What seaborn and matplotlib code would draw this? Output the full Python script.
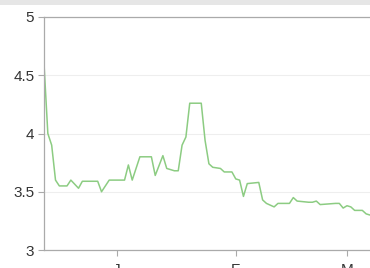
import matplotlib
matplotlib.use("Agg")
import matplotlib.pyplot as plt
import matplotlib.dates as mdates
import seaborn as sns
import pandas as pd
import numpy as np

# Day offsets from 1 Jan 2016 and the value read at each
day_offsets = [-19, -18, -17, -16, -15, -13, -12, -10, -9, -5, -4, -2, 2, 3, 4, 6, 9, 10,
               12, 13, 15, 16, 17, 18, 19, 22, 23, 24, 25, 27, 28, 30, 31, 32, 33, 34, 37,
               38, 39, 41, 42, 45, 46, 47, 50, 51, 52, 53, 57, 58, 59, 60, 61, 62, 64, 65, 66]
values = [4.6, 4.0, 3.9, 3.6, 3.55, 3.55, 3.6, 3.53, 3.59, 3.59, 3.5, 3.6, 3.6, 3.73, 3.6,
          3.8, 3.8, 3.64, 3.81, 3.7, 3.68, 3.68, 3.9, 3.97, 4.26, 4.26, 3.94, 3.74, 3.71,
          3.70, 3.67, 3.67, 3.61, 3.6, 3.46, 3.57, 3.58, 3.43, 3.40, 3.37, 3.40, 3.40, 3.45,
          3.42, 3.41, 3.41, 3.42, 3.39, 3.40, 3.40, 3.36, 3.38, 3.37, 3.34, 3.34, 3.31, 3.30]
y_ticks = [3, 3.5, 4, 4.5, 5]
y_tick_labels = ["3", "3.5", "4", "4.5", "5"]
month_labels = ["J", "F", "M"]

base = pd.Timestamp("2016-01-01")
df = pd.DataFrame({
    "date": [base + pd.Timedelta(days=d) for d in day_offsets],
    "value": values,
})

sns.set_theme(style="white")
plt.rcParams["font.family"] = ["Liberation Sans", "DejaVu Sans"]

fig = plt.figure(figsize=(3.70, 2.68), dpi=100)
fig.patch.set_facecolor("white")
# light grey strip at the top
fig.add_artist(plt.Rectangle((0, 1 - 4.5 / 268), 1, 4.5 / 268, transform=fig.transFigure,
                             facecolor="#e6e6e6", edgecolor="none"))

ax = fig.add_axes([44 / 370, 1 - 250 / 268, 1 - 44 / 370, (250 - 17) / 268])
sns.lineplot(data=df, x="date", y="value", ax=ax, color="#8ccc82", linewidth=1.1)

ax.set_xlim(base + pd.Timedelta(days=-19), base + pd.Timedelta(days=66))
ax.set_ylim(3, 5)
ax.set_yticks(y_ticks)
ax.set_yticklabels(y_tick_labels)
ax.set_xticks([pd.Timestamp("2016-01-01"), pd.Timestamp("2016-02-01"), pd.Timestamp("2016-03-01")])
ax.set_xticklabels(month_labels)
ax.set_xlabel("")
ax.set_ylabel("")

ax.grid(axis="y", color="#eeeeee", linewidth=0.8)
ax.set_axisbelow(True)
for side in ["left", "bottom", "top"]:
    ax.spines[side].set_visible(True)
    ax.spines[side].set_color("#aaaaaa")
    ax.spines[side].set_linewidth(0.9)
ax.spines["right"].set_visible(False)

ax.tick_params(axis="both", which="both", direction="out", length=4, width=0.8,
               color="#aaaaaa", labelcolor="#333333", labelsize=11)
ax.tick_params(axis="y", pad=3, left=True)
ax.tick_params(axis="x", pad=5, bottom=True)

fig.savefig("out.png", dpi=100)
